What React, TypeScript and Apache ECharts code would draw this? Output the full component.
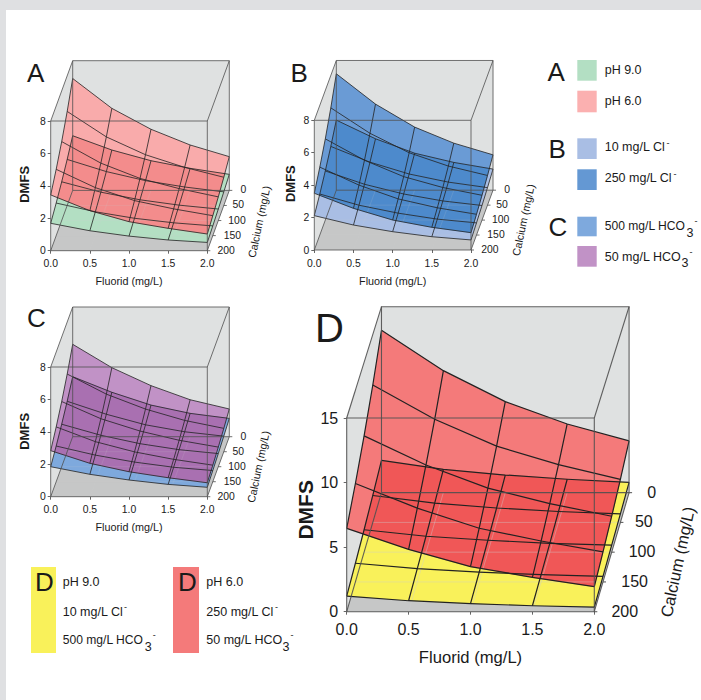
import React, { useEffect, useRef } from "react";
import * as echarts from "echarts";

const FONT = "Liberation Sans, Arial, sans-serif";
const fluoride = [0, 0.5, 1, 1.5, 2];
const calcium = [0, 50, 100, 150, 200];

// rows: calcium 0..200, columns: fluoride 0..2
const panelAUpper = [
  [6.9, 5.06, 3.77, 2.8, 2.08],
  [5.8, 4.23, 3.13, 2.35, 1.74],
  [4.87, 3.54, 2.6, 1.97, 1.46],
  [4.09, 2.96, 2.16, 1.65, 1.23],
  [3.44, 2.47, 1.79, 1.38, 1.03],
];
const panelALower = [
  [3.37, 2.49, 1.83, 1.36, 0.99],
  [2.84, 2.09, 1.53, 1.14, 0.84],
  [2.39, 1.75, 1.28, 0.95, 0.71],
  [2.01, 1.47, 1.07, 0.79, 0.6],
  [1.69, 1.23, 0.9, 0.66, 0.51],
];
const panelBUpper = [
  [7.18, 5.31, 3.89, 2.9, 2.18],
  [6.0, 4.43, 3.23, 2.41, 1.83],
  [5.01, 3.69, 2.68, 2.01, 1.53],
  [4.19, 3.08, 2.23, 1.68, 1.28],
  [3.5, 2.57, 1.85, 1.4, 1.07],
];
const panelBLower = [
  [4.32, 3.17, 2.28, 1.71, 1.3],
  [3.62, 2.65, 1.92, 1.42, 1.08],
  [3.03, 2.21, 1.61, 1.18, 0.9],
  [2.53, 1.84, 1.35, 0.98, 0.75],
  [2.12, 1.54, 1.13, 0.82, 0.62],
];
const panelCUpper = [
  [5.7, 4.26, 3.15, 2.28, 1.71],
  [4.79, 3.55, 2.63, 1.93, 1.44],
  [4.02, 2.96, 2.2, 1.63, 1.21],
  [3.38, 2.47, 1.84, 1.38, 1.02],
  [2.84, 2.06, 1.54, 1.17, 0.86],
];
const panelCLower = [
  [3.7, 2.74, 1.95, 1.44, 1.13],
  [3.11, 2.31, 1.66, 1.23, 0.96],
  [2.62, 1.94, 1.42, 1.05, 0.81],
  [2.2, 1.64, 1.21, 0.89, 0.69],
  [1.85, 1.38, 1.03, 0.76, 0.58],
];
const panelDUpper = [
  [13.1, 9.84, 7.34, 5.54, 4.17],
  [10.97, 8.23, 6.09, 4.61, 3.44],
  [9.19, 6.89, 5.06, 3.84, 2.84],
  [7.7, 5.77, 4.2, 3.2, 2.35],
  [6.45, 4.83, 3.49, 2.66, 1.94],
];
const panelDLower = [
  [2.6, 1.88, 1.42, 1.08, 0.83],
  [2.15, 1.54, 1.15, 0.87, 0.68],
  [1.77, 1.26, 0.94, 0.7, 0.55],
  [1.46, 1.04, 0.76, 0.57, 0.44],
  [1.21, 0.85, 0.62, 0.46, 0.36],
];

const panels = [
  { left: 50.7, top: 121, w: 156.6, h: 129.7, zMax: 8, zStep: 2, dxU: 0.281, dyU: 3.72, shrink: 0, s: 1,
    upper: panelAUpper, lower: panelALower, cUpper: "#f9abab", cLower: "#b3dfc3", cOverlap: "#f38c8c", faint: 0.2,
    ca: [259, 221.7], lw: 0.8, axisFont: 10.4, nameFont: 10.8, titleFont: 13, xGap: 25, yGap: 20, yPad: 3, tick: 3, xM: 8, yM: 5 },
  { left: 314.3, top: 120.3, w: 156.7, h: 129.7, zMax: 8, zStep: 2, dxU: 0.281, dyU: 3.69, shrink: 0, s: 1,
    upper: panelBUpper, lower: panelBLower, cUpper: "#6a9bd5", cLower: "#a9bee4", cOverlap: "#4d8acc", faint: 0.2,
    ca: [523.3, 220], lw: 0.8, axisFont: 10.4, nameFont: 10.8, titleFont: 13, xGap: 25, yGap: 17, yPad: 3, tick: 3, xM: 8, yM: 5 },
  { left: 50.7, top: 367, w: 156.6, h: 129.7, zMax: 8, zStep: 2, dxU: 0.281, dyU: 3.7, shrink: 0, s: 1,
    upper: panelCUpper, lower: panelCLower, cUpper: "#c192c6", cLower: "#7ea9dd", cOverlap: "#a970b1", faint: 0.2,
    ca: [258.3, 466.7], lw: 0.8, axisFont: 10.4, nameFont: 10.8, titleFont: 13, xGap: 25, yGap: 20, yPad: 1, tick: 3, xM: 8, yM: 5 },
  { left: 346.7, top: 418, w: 247.6, h: 193.7, zMax: 15, zStep: 5, dxU: 0.281, dyU: 9.22, shrink: 0.04, s: 1.62,
    upper: panelDUpper, lower: panelDLower, cUpper: "#f47a7a", cLower: "#f9f15a", cOverlap: "#f05757", faint: 0.5,
    ca: [678, 562], lw: 1.2, axisFont: 16, nameFont: 16.6, titleFont: 21, xGap: 37, yGap: 31, yPad: 10, tick: 3, xM: 9.5, yM: 8.5 },
];

const caLabelOffsets = [14, 14.5, 18.7, 19.5, 18.8];

type Pt = number[];

function clipConvex(subject: Pt[], clip: Pt[]): Pt[] {
  let area = 0;
  clip.forEach((a, i) => {
    const b = clip[(i + 1) % clip.length];
    area += a[0] * b[1] - b[0] * a[1];
  });
  const sign = area > 0 ? 1 : -1;
  let out = subject;
  for (let i = 0; i < clip.length && out.length; i++) {
    const a = clip[i];
    const b = clip[(i + 1) % clip.length];
    const side = (p: Pt) => sign * ((b[0] - a[0]) * (p[1] - a[1]) - (b[1] - a[1]) * (p[0] - a[0]));
    const next: Pt[] = [];
    out.forEach((p, j) => {
      const q = out[(j + 1) % out.length];
      const sp = side(p);
      const sq = side(q);
      if (sp >= 0) next.push(p);
      if (sp >= 0 !== sq >= 0) {
        const t = sp / (sp - sq);
        next.push([p[0] + t * (q[0] - p[0]), p[1] + t * (q[1] - p[1])]);
      }
    });
    out = next;
  }
  return out;
}

function makeRenderItem(cfg: any) {
  return (_params: any, api: any) => {
    const project = (f: number, ca: number, z: number): Pt => {
      const d = (200 - ca) / 200;
      return api.coord([f + d * cfg.dxU, z * (1 - d * cfg.shrink) + d * cfg.dyU]);
    };
    const children: any[] = [];
    const poly = (points: Pt[], fill: string, stroke?: string) =>
      children.push({
        type: "polygon",
        shape: { points },
        style: { fill, stroke: stroke || "none", lineWidth: stroke ? 0.5 : 0 },
      });
    const line = (points: Pt[], stroke: string, lineWidth: number) =>
      children.push({ type: "polyline", shape: { points }, style: { fill: "none", stroke, lineWidth } });

    const fMax = fluoride[fluoride.length - 1];
    // walls and floor
    poly(
      [
        project(0, 200, cfg.zMax),
        project(0, 0, cfg.zMax),
        project(fMax, 0, cfg.zMax),
        project(fMax, 0, 0),
        project(fMax, 200, 0),
        project(0, 200, 0),
      ],
      "#dfe1e1"
    );
    poly([project(0, 200, 0), project(fMax, 200, 0), project(fMax, 0, 0), project(0, 0, 0)], "#c6c7c7");

    const gridPts = (m: number[][]) => m.map((row, r) => row.map((z, c) => project(fluoride[c], calcium[r], z)));
    const up = gridPts(cfg.upper);
    const lo = gridPts(cfg.lower);
    const outline = (g: Pt[][]) => [
      ...g[0],
      ...g.slice(1).map((r) => r[r.length - 1]),
      ...g[g.length - 1].slice(0, -1).reverse(),
      ...g.slice(1, -1).map((r) => r[0]).reverse(),
    ];
    const upOutline = outline(up);
    poly(upOutline, cfg.cUpper);
    poly(outline(lo), cfg.cLower);
    // region where the upper surface lies in front of the lower one
    for (let r = 0; r < lo.length - 1; r++) {
      for (let c = 0; c < lo[r].length - 1; c++) {
        const piece = clipConvex(upOutline, [lo[r][c], lo[r][c + 1], lo[r + 1][c + 1], lo[r + 1][c]]);
        if (piece.length > 2) poly(piece, cfg.cOverlap, cfg.cOverlap);
      }
    }

    // faint floor grid seen through the surfaces
    const faint = `rgba(205,205,205,${cfg.faint})`;
    fluoride.slice(1, -1).forEach((f) => line([project(f, 200, 0), project(f, 0, 0)], faint, 0.8));
    calcium.slice(1, -1).forEach((ca) => line([project(0, ca, 0), project(fMax, ca, 0)], faint, 0.8));

    // surface mesh
    [lo, up].forEach((g) => {
      g.forEach((row) => line(row, "#222222", cfg.lw));
      fluoride.forEach((_, c) => line(g.map((row) => row[c]), "#222222", cfg.lw));
    });

    // box edges over everything
    const edge = "rgba(80,80,80,0.9)";
    const ew = cfg.s > 1 ? 1.1 : 0.9;
    const Z = cfg.zMax;
    line([project(0, 200, 0), project(0, 200, Z), project(fMax, 200, Z), project(fMax, 200, 0), project(0, 200, 0)], edge, ew);
    line([project(0, 0, 0), project(0, 0, Z), project(fMax, 0, Z), project(fMax, 0, 0), project(0, 0, 0)], edge, ew);
    line([project(0, 200, 0), project(0, 0, 0)], edge, ew);
    line([project(fMax, 200, 0), project(fMax, 0, 0)], edge, ew);
    line([project(0, 200, Z), project(0, 0, Z)], edge, ew);
    line([project(fMax, 200, Z), project(fMax, 0, Z)], edge, ew);

    // calcium depth axis
    calcium.forEach((ca, i) => {
      const p = project(fMax, ca, 0);
      line([p, [p[0] + 3, p[1]]], edge, ew);
      children.push({
        type: "text",
        style: {
          text: String(ca),
          x: p[0] + caLabelOffsets[i] * cfg.s,
          y: p[1] - 0.5,
          fill: "#1a1a1a",
          fontFamily: FONT,
          fontSize: cfg.axisFont,
          align: "center",
          verticalAlign: "middle",
        },
      });
    });
    children.push({
      type: "text",
      x: cfg.ca[0],
      y: cfg.ca[1],
      rotation: (78 * Math.PI) / 180,
      style: {
        text: "Calcium (mg/L)",
        x: 0,
        y: 0,
        fill: "#1a1a1a",
        fontFamily: FONT,
        fontSize: cfg.nameFont,
        align: "center",
        verticalAlign: "middle",
      },
    });
    return { type: "group", children };
  };
}

function label(text: string, x: number, y: number, fontSize = 12.5) {
  return {
    type: "text",
    x,
    y,
    style: { text, fill: "#1a1a1a", fontFamily: FONT, fontSize, align: "left", verticalAlign: "middle" },
  };
}
function swatch(x: number, y: number, width: number, height: number, fill: string) {
  return { type: "rect", shape: { x, y, width, height }, style: { fill } };
}

const legendGraphics = [
  label("A", 27, 73, 26), label("B", 290.5, 73, 26), label("C", 27, 317.5, 26), label("D", 315, 328, 40),
  label("A", 547.5, 71.5, 26), label("B", 548.5, 149, 26), label("C", 548.5, 226.5, 26),
  swatch(577.3, 60, 19.4, 20.7, "#b3dfc3"), swatch(577.3, 90.7, 19.4, 21.6, "#fbb0b0"),
  swatch(577.3, 138.3, 19.4, 20.7, "#a9bee4"), swatch(577.3, 169.3, 19.4, 20.7, "#6498d3"),
  swatch(577.3, 216.7, 19.4, 19.6, "#7ea9dd"), swatch(577.3, 246, 19.4, 20.7, "#c192c6"),
  label("pH 9.0", 604.7, 69.7), label("pH 6.0", 604.7, 100.7),
  label("10 mg/L Cl", 604.7, 147), label("-", 666.5, 142.5, 9),
  label("250 mg/L Cl", 604.7, 178), label("-", 673.5, 173.5, 9),
  label("500 mg/L HCO", 604.7, 226, 12.1), label("3", 686.5, 233), label("-", 694.5, 221, 9),
  label("50 mg/L HCO", 604.7, 256.7), label("3", 681.5, 263), label("-", 689.5, 252, 9),
  swatch(31, 567, 25, 86, "#f9f15a"), swatch(173, 567, 26, 86, "#f47a7a"),
  label("D", 35, 582, 26), label("D", 178, 582, 26),
  label("pH 9.0", 62.7, 582), label("10 mg/L Cl", 62.7, 611.7), label("-", 124, 607, 9),
  label("500 mg/L HCO", 62.7, 640, 12.1), label("3", 144.7, 646.5), label("-", 152.7, 635, 9),
  label("pH 6.0", 206.3, 582), label("250 mg/L Cl", 206.3, 611.7), label("-", 275, 607, 9),
  label("50 mg/L HCO", 206.3, 640), label("3", 282.5, 646.5), label("-", 290.5, 635, 9),
];

export default function App() {
  const ref = useRef<HTMLDivElement>(null);
  useEffect(() => {
    const chart = echarts.init(ref.current!, null, { renderer: "svg" });
    const tickLine = { color: "#555", width: 0.9 };
    chart.setOption({
      animation: false,
      backgroundColor: "transparent",
      grid: panels.map((p) => ({ left: p.left, top: p.top, width: p.w, height: p.h, containLabel: false })),
      xAxis: panels.map((p, i) => ({
        type: "value",
        gridIndex: i,
        min: 0,
        max: 2,
        interval: 0.5,
        name: "Fluorid (mg/L)",
        nameLocation: "middle",
        nameGap: p.xGap,
        nameTextStyle: { fontFamily: FONT, fontSize: p.nameFont, color: "#1a1a1a" },
        axisLine: { show: false },
        axisTick: { show: true, length: p.tick, lineStyle: tickLine },
        splitLine: { show: false },
        axisLabel: { margin: p.xM, fontFamily: FONT, fontSize: p.axisFont, color: "#1a1a1a", formatter: (v: number) => v.toFixed(1) },
      })),
      yAxis: panels.map((p, i) => ({
        type: "value",
        gridIndex: i,
        min: 0,
        max: p.zMax,
        interval: p.zStep,
        name: "DMFS",
        nameLocation: "middle",
        nameGap: p.yGap,
        nameRotate: 90,
        nameTextStyle: { fontFamily: FONT, fontSize: p.titleFont, fontWeight: "bold", color: "#1a1a1a", padding: [0, 0, 0, p.yPad] },
        axisLine: { show: false },
        axisTick: { show: true, length: p.tick, lineStyle: tickLine },
        splitLine: { show: false },
        axisLabel: { margin: p.yM, fontFamily: FONT, fontSize: p.axisFont, color: "#1a1a1a" },
      })),
      series: panels.map((p, i) => ({
        type: "custom",
        coordinateSystem: "cartesian2d",
        xAxisIndex: i,
        yAxisIndex: i,
        clip: false,
        silent: true,
        data: [[0, 0]],
        renderItem: makeRenderItem(p),
      })),
      graphic: { elements: legendGraphics },
    });
    return () => chart.dispose();
  }, []);
  return (
    <div style={{ position: "absolute", left: 0, top: 0, width: 701, height: 700, background: "#dfe0e2", overflow: "hidden" }}>
      <div style={{ position: "absolute", left: 6, top: 10, right: 0, bottom: 0, background: "#ffffff" }} />
      <div ref={ref} style={{ position: "absolute", left: 0, top: 0, width: 701, height: 700 }} />
    </div>
  );
}
